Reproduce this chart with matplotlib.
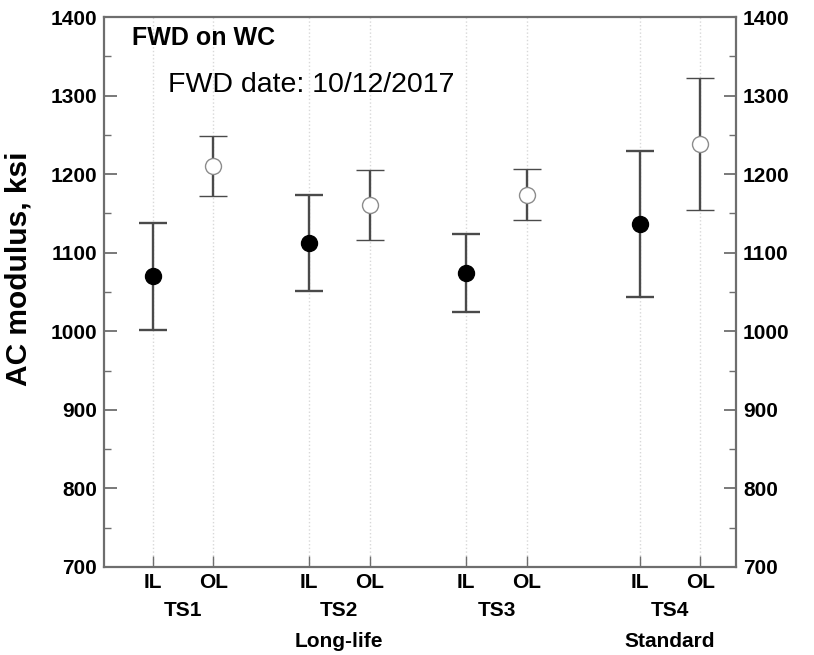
import matplotlib
matplotlib.use("Agg")
from matplotlib import pyplot as plt
from matplotlib.ticker import MultipleLocator
import matplotlib.transforms as mtransforms

plt.rcParams['font.family'] = ['Liberation Sans', 'DejaVu Sans']

# data (ksi)
sections = ['TS1', 'TS2', 'TS3', 'TS4']
section_notes = ['', 'Long-life', '', 'Standard']
il_mean = [1070, 1112, 1074, 1136]
il_low = [1002, 1051, 1025, 1043]
il_high = [1138, 1173, 1124, 1229]
ol_mean = [1210, 1161, 1174, 1238]
ol_low = [1172, 1116, 1142, 1154]
ol_high = [1248, 1205, 1207, 1322]

il_x = [0.8, 3.38, 5.97, 8.83]
ol_x = [1.8, 4.38, 6.97, 9.83]

fig = plt.figure(figsize=(8.14, 6.55), dpi=100)
ax = fig.add_axes([0.1278, 0.1344, 0.7764, 0.8396])

spine_col = '#6e6e6e'
bar_col = '#4a4a4a'

# dotted vertical grid at each lane
for x in il_x + ol_x:
    ax.axvline(x, color='#d8d8d8', linestyle=':', linewidth=1.0, zorder=0)

# inner lane: filled black
ax.errorbar(il_x, il_mean,
            yerr=[[m - lo for m, lo in zip(il_mean, il_low)],
                  [hi - m for m, hi in zip(il_mean, il_high)]],
            fmt='o', color=bar_col, ecolor=bar_col, elinewidth=1.7,
            capsize=10, capthick=1.7, markersize=11.5,
            markerfacecolor='black', markeredgecolor='black', zorder=3)

# outer lane: open grey circle
ax.errorbar(ol_x, ol_mean,
            yerr=[[m - lo for m, lo in zip(ol_mean, ol_low)],
                  [hi - m for m, hi in zip(ol_mean, ol_high)]],
            fmt='o', color=bar_col, ecolor=bar_col, elinewidth=1.7,
            capsize=10, capthick=1.7, markersize=11.5,
            markerfacecolor='white', markeredgecolor='#8c8c8c',
            markeredgewidth=1.0, zorder=3)

ax.set_xlim(0, 10.42)
ax.set_ylim(700, 1400)

ax.set_xticks(il_x + ol_x)
ax.set_xticklabels(['IL'] * 4 + ['OL'] * 4, fontsize=15, fontweight='bold')
ax.yaxis.set_major_locator(MultipleLocator(100))
ax.yaxis.set_minor_locator(MultipleLocator(50))

ax.tick_params(axis='y', which='major', direction='in', length=9, width=1.3,
               color=spine_col, labelsize=15, left=True, right=True,
               labelleft=True, labelright=True, pad=5)
ax.tick_params(axis='y', which='minor', direction='in', length=5, width=1.0,
               color=spine_col, left=True, right=True)
ax.tick_params(axis='x', which='major', direction='in', length=8, width=1.0,
               color=spine_col, pad=4)
for t in ax.yaxis.get_major_ticks():
    t.label1.set_fontweight('bold')
    t.label2.set_fontweight('bold')
    t.label2.set_fontsize(15)

for s in ax.spines.values():
    s.set_color(spine_col)
    s.set_linewidth(1.6)

ax.set_ylabel('AC modulus, ksi', fontsize=21.5, fontweight='bold')
ax.yaxis.set_label_coords(-0.113, 0.542)

# section names under the lane labels
trans = mtransforms.blended_transform_factory(ax.transData, ax.transAxes)
for xi, xo, name, note in zip(il_x, ol_x, sections, section_notes):
    xc = (xi + xo) / 2
    ax.text(xc, -0.08, name, transform=trans, ha='center', va='center',
            fontsize=15, fontweight='bold')
    if note:
        ax.text(xc, -0.136, note, transform=trans, ha='center', va='center',
                fontsize=15, fontweight='bold')

ax.text(0.044, 0.962, 'FWD on WC', transform=ax.transAxes, ha='left',
        va='center', fontsize=18, fontweight='bold')
ax.text(0.101, 0.876, 'FWD date: 10/12/2017', transform=ax.transAxes,
        ha='left', va='center', fontsize=20.5)

fig.savefig('out.png', dpi=100)
